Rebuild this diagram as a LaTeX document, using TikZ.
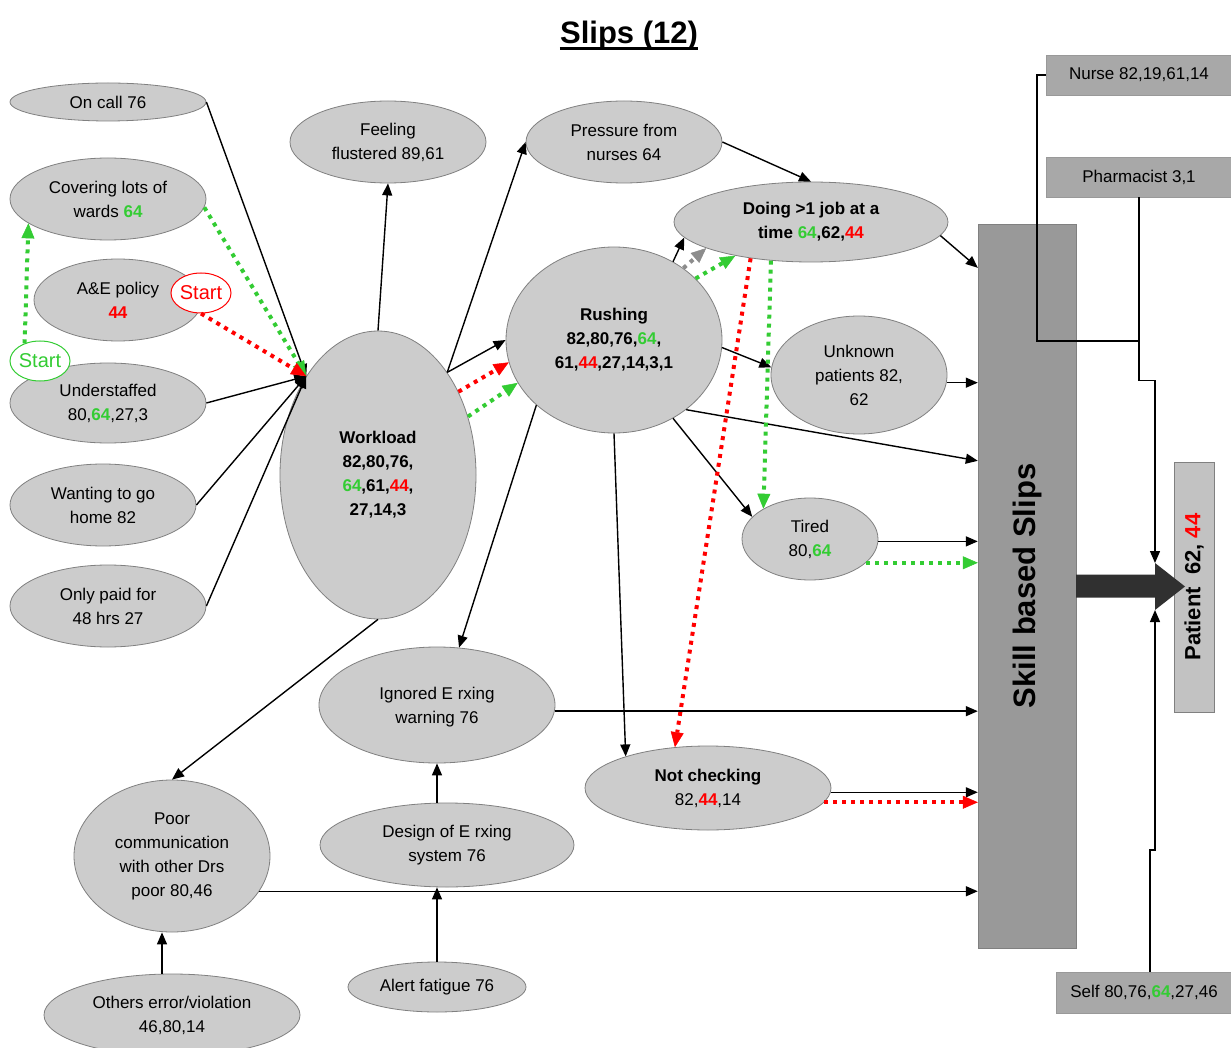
\documentclass[tikz,border=0pt]{standalone}
\usepackage{fontspec}
\setmainfont{Liberation Sans}
\usetikzlibrary{shapes.geometric,arrows.meta,calc}

\definecolor{nodefill}{RGB}{204,204,204}
\definecolor{nodeline}{RGB}{128,128,128}
\definecolor{okgreen}{RGB}{51,204,51}
\definecolor{alertred}{RGB}{255,0,0}
\definecolor{barfill}{RGB}{153,153,153}
\definecolor{boxfill}{RGB}{168,168,168}
\definecolor{patientfill}{RGB}{194,194,194}
\definecolor{shaftfill}{RGB}{48,48,48}
\definecolor{midgray}{RGB}{140,140,140}

\newcommand\grnum[1]{\textcolor{okgreen}{\textbf{#1}}}
\newcommand\rednum[1]{\textcolor{alertred}{\textbf{#1}}}

\begin{document}
\begin{tikzpicture}[x=1pt,y=-1pt,
  el/.style={ellipse, draw=nodeline, fill=nodefill, line width=0.8pt, inner sep=0pt},
  startel/.style={ellipse, fill=white, line width=1pt, inner sep=0pt,
    minimum width=60, minimum height=40, font=\fontsize{20}{24}\selectfont},
  txt/.style={align=center, inner sep=0pt, font=\fontsize{17}{24}\selectfont},
  btxt/.style={txt, font=\fontsize{17}{24}\selectfont\bfseries},
  box/.style={rectangle, draw=nodeline!80, fill=boxfill, inner sep=0pt,
    font=\fontsize{17}{24}\selectfont},
  plain/.style={line width=1.4pt, black},
  arr/.style={plain, -{Triangle[length=12pt,width=10pt]}},
  dotarr/.style={line width=4pt, dash pattern=on 4pt off 5pt,
    -{Triangle[length=15pt,width=13pt,line width=0.5pt]}},
]
\fill[white] (0,0) rectangle (1231,1048);
\useasboundingbox (0,0) rectangle (1231,1048);

% title with a heavy underline
\node[font=\fontsize{31}{36}\selectfont\bfseries, inner sep=0pt, anchor=base] (title) at (629,44) {Slips (12)};
\draw[line width=2.6pt] ($(title.base west)+(0,4.5)$) -- ($(title.base east)+(0,4.5)$);

% left column of causes
\node[el, minimum width=196, minimum height=38] (oncall) at (108,102) {};
\node[txt] at (oncall) {On call 76};
\node[el, minimum width=196, minimum height=82] (covering) at (108,199) {};
\node[txt] at (covering) {Covering lots of\\wards \grnum{64}};
\node[el, minimum width=168, minimum height=82] (aepolicy) at (118,300) {};
\node[txt] at (aepolicy) {A\&E policy\\\rednum{44}};
\node[el, minimum width=196, minimum height=80] (understaffed) at (108,403) {};
\node[txt] at (understaffed) {Understaffed\\80,\grnum{64},27,3};
\node[el, minimum width=186, minimum height=82] (wanting) at (103,505) {};
\node[txt] at (wanting) {Wanting to go\\home 82};
\node[el, minimum width=196, minimum height=82] (onlypaid) at (108,606) {};
\node[txt] at (onlypaid) {Only paid for\\48 hrs 27};

% start markers
\node[startel, draw=alertred, text=alertred] (startR) at (201,293) {Start};
\node[startel, draw=okgreen, text=okgreen] (startG) at (40,361) {Start};

% central nodes
\node[el, minimum width=196, minimum height=288] (workload) at (378,475) {};
\node[btxt] at (workload) {Workload\\82,80,76,\\\grnum{64},61,\rednum{44},\\27,14,3};
\node[el, minimum width=196, minimum height=82] (feeling) at (388,142) {};
\node[txt] at (feeling) {Feeling\\flustered 89,61};
\node[el, minimum width=196, minimum height=82] (pressure) at (624,142) {};
\node[txt] at (pressure) {Pressure from\\nurses 64};
\node[el, minimum width=274, minimum height=80] (doing) at (811,222) {};
\node[btxt] at (doing) {Doing \textgreater1 job at a\\time \grnum{64},62,\rednum{44}};
\node[el, minimum width=216, minimum height=186] (rushing) at (614,340) {};
\node[btxt] at (rushing) {Rushing\\82,80,76,\grnum{64},\\61,\rednum{44},27,14,3,1};
\node[el, minimum width=176, minimum height=118] (unknown) at (859,375) {};
\node[txt] at (unknown) {Unknown\\patients 82,\\62};
\node[el, minimum width=136, minimum height=82] (tired) at (810,539) {};
\node[txt] at (tired) {Tired\\80,\grnum{64}};
\node[el, minimum width=236, minimum height=116] (ignored) at (437,705) {};
\node[txt] at ([yshift=-2pt]ignored.center) {Ignored E rxing\\warning 76};
\node[el, minimum width=246, minimum height=84] (notcheck) at (708,788) {};
\node[txt] at (notcheck) {\textbf{Not checking}\\82,\rednum{44},14};
\node[el, minimum width=254, minimum height=84] (design) at (447,845) {};
\node[txt] at (design) {Design of E rxing\\system 76};
\node[el, minimum width=178, minimum height=50] (alert) at (437,987) {};
\node[txt] at (alert) {Alert fatigue 76};
\node[el, minimum width=196, minimum height=152] (poor) at (172,856) {};
\node[txt] at (poor) {Poor\\communication\\with other Drs\\poor 80,46};
\node[el, minimum width=256, minimum height=82] (others) at (172,1015) {};
\node[txt] at (others) {Others error/violation\\46,80,14};

% outcome bar and people
\node[rectangle, draw=nodeline, fill=barfill, minimum width=98, minimum height=724, inner sep=0pt] (bar) at (1027,586) {};
\node[rotate=90, inner sep=0pt, font=\fontsize{31}{36}\selectfont\bfseries] at (bar) {Skill based Slips};
\node[box, minimum width=186, minimum height=40] (nurse) at (1139,75) {Nurse 82,19,61,14};
\node[box, minimum width=186, minimum height=40] (pharm) at (1139,177) {Pharmacist 3,1};
\node[box, minimum width=176, minimum height=41] (self) at (1144,992.5) {Self 80,76,\grnum{64},27,46};
\node[rectangle, draw=nodeline, fill=patientfill, minimum width=40, minimum height=250, inner sep=0pt] (patient) at (1194,587) {};
\node[rotate=90, inner sep=0pt, font=\fontsize{22}{26}\selectfont\bfseries] at (patient) {Patient\ \ 62, \textcolor{alertred}{44}};

% broad arrow from the bar to the patient
\coordinate (headtop) at (1155,563);
\coordinate (headbot) at (1155,610);
\fill[shaftfill] ($(bar.east)+(0,-11.5)$) -- (1155,574.5) -- (headtop) -- (1185,586.5)
  -- (headbot) -- (1155,597.5) -- ($(bar.east)+(0,11.5)$) -- cycle;

% contributions of other people
\draw[plain] (nurse.west) -- ++(-9,0) |- ($(pharm.south)+(0,144)$);
\draw[arr] (pharm.south) -- ++(0,183) -| (headtop);
\draw[arr] ([xshift=6pt]self.north) -- ++(0,-122) -| (headbot);

% into workload
\draw[arr] (oncall.east) -- (workload.126);
\draw[arr] (understaffed.east) -- (workload.126);
\draw[arr] (wanting.east) -- (workload.126);
\draw[arr] (onlypaid.east) -- (workload.126);
\draw[dotarr, okgreen] (covering.-5) -- (workload.126);
\draw[dotarr, alertred] (startR.south) -- (workload.126);
\draw[dotarr, okgreen] (startG.131) -- (covering.197);

% from workload
\draw[arr] (workload.north) -- (feeling.south);
\draw[arr] (workload.56) -- (pressure.west);
\draw[arr] (workload.56) -- (rushing.west);
\draw[dotarr, alertred] (workload.46) -- (rushing.192);
\draw[dotarr, okgreen] (workload.33) -- (rushing.204);
\draw[arr] (workload.south) -- (poor.north);

% from pressure and rushing
\draw[arr] (pressure.east) -- (doing.north);
\draw[arr] (rushing.53) -- (doing.187);
\draw[dotarr, midgray] (rushing.46) -- (doing.194);
\draw[dotarr, okgreen] (rushing.37) -- (doing.204);
\draw[arr] (rushing.-4) -- (unknown.175);
\draw[arr] (rushing.-44) -- ($(bar.north west)+(0,237)$);
\draw[arr] (rushing.-53) -- (tired.159);
\draw[arr] (rushing.south) -- (notcheck.159);
\draw[arr] (rushing.220) -- (ignored.69);

% from doing
\draw[arr] (doing.-6) -- ($(bar.north west)+(0,44)$);
\draw[dotarr, alertred] (doing.211) -- (notcheck.129);
\draw[dotarr, okgreen] (doing.224) -- (tired.147);

% into the bar
\draw[arr] (unknown.-5) -- (unknown.-5 -| bar.west);
\draw[arr] (tired.-2) -- (tired.-2 -| bar.west);
\draw[dotarr, okgreen] (tired.-23) -- (tired.-23 -| bar.west);
\draw[arr] (ignored.-3) -- (ignored.-3 -| bar.west);
\draw[arr] (notcheck.-2) -- (notcheck.-2 -| bar.west);
\draw[dotarr, alertred] (notcheck.-7) -- (notcheck.-7 -| bar.west);
\draw[arr] (poor.-22) -- (poor.-22 -| bar.west);

% lower chain
\draw[arr] ([xshift=-10pt]others.north) -- ([xshift=-10pt]poor.south);
\draw[arr] ([xshift=-10pt]design.north) -- (ignored.south);
\draw[arr] (alert.north) -- ([xshift=-10pt]design.south);
\end{tikzpicture}
\end{document}
